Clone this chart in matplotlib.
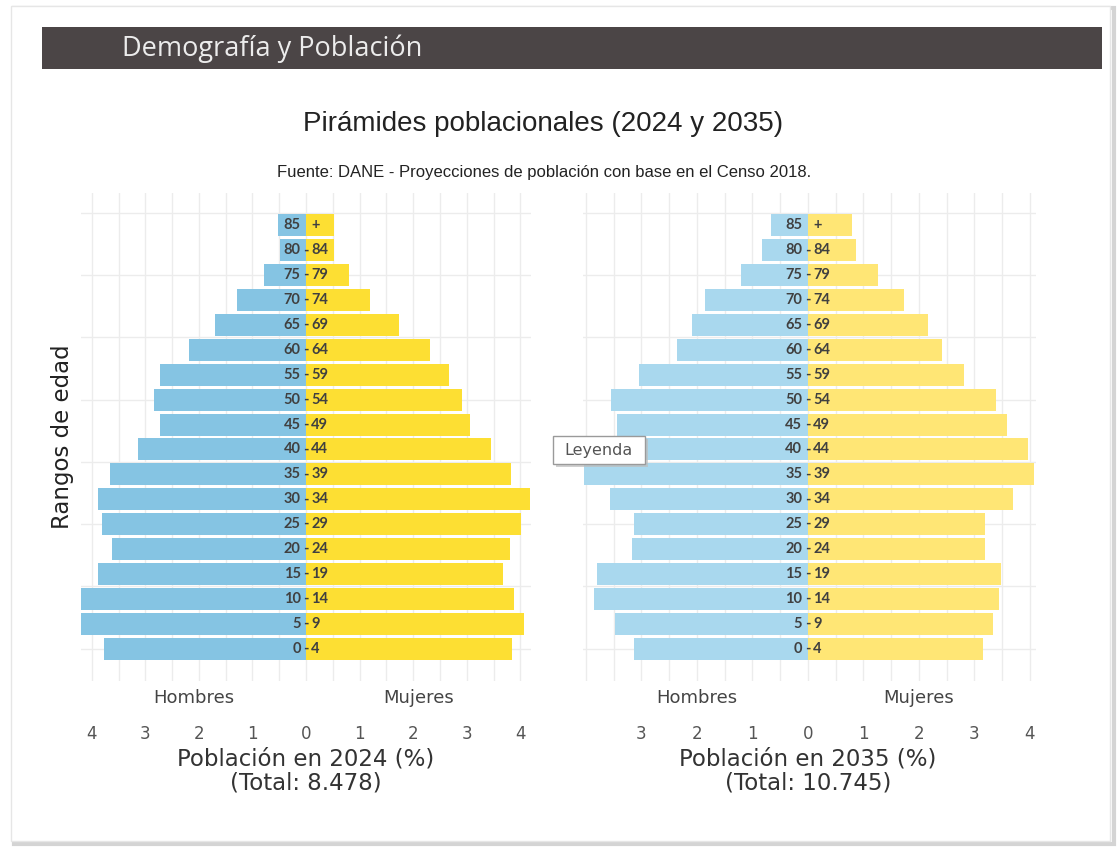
import matplotlib
matplotlib.use("Agg")
import matplotlib.pyplot as plt
from matplotlib.patches import Rectangle
from matplotlib.ticker import MultipleLocator
import matplotlib.transforms as mtransforms

# age groups, bottom to top
edad_inf = ['0', '5', '10', '15', '20', '25', '30', '35', '40',
            '45', '50', '55', '60', '65', '70', '75', '80', '85']
edad_sup = ['4', '9', '14', '19', '24', '29', '34', '39', '44',
            '49', '54', '59', '64', '69', '74', '79', '84', '+']

# 2024 (%)
hombres_2024 = [3.77, 4.21, 4.23, 3.89, 3.62, 3.81, 3.89, 3.66, 3.13,
                2.72, 2.83, 2.72, 2.19, 1.70, 1.28, 0.79, 0.49, 0.53]
mujeres_2024 = [3.85, 4.07, 3.89, 3.67, 3.80, 4.02, 4.19, 3.83, 3.46,
                3.07, 2.91, 2.67, 2.31, 1.74, 1.20, 0.80, 0.52, 0.52]

# 2035 (%)
hombres_2035 = [3.14, 3.48, 3.86, 3.80, 3.17, 3.14, 3.57, 4.04, 3.85,
                3.43, 3.54, 3.05, 2.35, 2.08, 1.86, 1.21, 0.83, 0.67]
mujeres_2035 = [3.16, 3.34, 3.45, 3.48, 3.19, 3.19, 3.70, 4.08, 3.96,
                3.59, 3.39, 2.81, 2.41, 2.17, 1.74, 1.27, 0.86, 0.79]

W, H = 1120, 848
fig = plt.figure(figsize=(W / 100, H / 100), dpi=100)


def fx(x):
    return x / W


def fy(y):
    return 1 - y / H


# card border / shadow
fig.patches.append(Rectangle((fx(14), fy(844)), fx(1114) - fx(14), fy(8) - fy(844),
                             transform=fig.transFigure, facecolor='none',
                             edgecolor='#d4d4d4', lw=3, zorder=-3))
fig.patches.append(Rectangle((fx(11), fy(841)), fx(1110) - fx(11), fy(6) - fy(841),
                             transform=fig.transFigure, facecolor='white',
                             edgecolor='#e6e6e6', lw=1, zorder=-2))

# header bar
fig.patches.append(Rectangle((fx(42), fy(69)), fx(1102) - fx(42), fy(27) - fy(69),
                             transform=fig.transFigure, facecolor='#4b4546',
                             edgecolor='none', zorder=-1))
fig.text(fx(122), fy(49), 'Demografía y Población', color='#ececec',
         fontsize=19.5, family='Open Sans', va='center', ha='left')

fig.text(fx(543), fy(124), 'Pirámides poblacionales (2024 y 2035)',
         fontsize=20, family='Liberation Sans', color='#222222',
         ha='center', va='center')
fig.text(fx(544), fy(172),
         'Fuente: DANE - Proyecciones de población con base en el Censo 2018.',
         fontsize=12, family='Liberation Sans', color='#222222',
         ha='center', va='center')

fig.text(fx(63), fy(437), 'Rangos de edad', rotation=90, fontsize=16.5,
         family='DejaVu Sans', color='#222222', ha='center', va='center')

y_pos = list(range(len(edad_inf)))

paneles = [
    dict(box=(81, 531), xlim=(-4.2, 4.2), hombres=hombres_2024, mujeres=mujeres_2024,
         c_h='#85c4e3', c_m='#fddf33', ticks=[-4, -3, -2, -1, 0, 1, 2, 3, 4],
         titulo='Población en 2024 (%)\n(Total: 8.478)', sx=2.1),
    dict(box=(583, 1036), xlim=(-4.05, 4.11), hombres=hombres_2035, mujeres=mujeres_2035,
         c_h='#a9d8ee', c_m='#ffe675', ticks=[-3, -2, -1, 0, 1, 2, 3, 4],
         titulo='Población en 2035 (%)\n(Total: 10.745)', sx=2.0),
]

for p in paneles:
    x0, x1 = p['box']
    ax = fig.add_axes([fx(x0), fy(681), fx(x1) - fx(x0), fy(193) - fy(681)])
    ax.set_zorder(1)
    ax.patch.set_alpha(0)
    ax.set_xlim(*p['xlim'])
    ax.set_ylim(-1.3, 18.3)
    ax.barh(y_pos, [-v for v in p['hombres']], height=0.88, color=p['c_h'], zorder=2)
    ax.barh(y_pos, p['mujeres'], height=0.88, color=p['c_m'], zorder=2)
    ax.xaxis.set_major_locator(MultipleLocator(0.5))
    ax.yaxis.set_major_locator(MultipleLocator(2.5))
    ax.grid(True, color='#ececec', lw=1, zorder=0)
    ax.set_axisbelow(True)
    for s in ax.spines.values():
        s.set_visible(False)
    ax.tick_params(length=0, labelbottom=False, labelleft=False)

    for i in y_pos:
        ax.text(-0.1, i, edad_inf[i], ha='right', va='center', fontsize=10.5,
                family='Lato', fontweight='bold', color='#404040', zorder=3)
        if edad_sup[i] != '+':
            ax.text(0, i, '-', ha='center', va='center', fontsize=10.5,
                    family='Lato', fontweight='bold', color='#404040', zorder=3)
        ax.text(0.1, i, edad_sup[i], ha='left', va='center', fontsize=10.5,
                family='Lato', fontweight='bold', color='#404040', zorder=3)

    tr = mtransforms.blended_transform_factory(ax.transData, fig.transFigure)
    ax.text(-p['sx'], fy(698), 'Hombres', transform=tr, ha='center', va='center',
            fontsize=13, family='DejaVu Sans', color='#444444')
    ax.text(p['sx'], fy(698), 'Mujeres', transform=tr, ha='center', va='center',
            fontsize=13, family='DejaVu Sans', color='#444444')
    for t in p['ticks']:
        ax.text(t, fy(734), str(abs(t)), transform=tr, ha='center', va='center',
                fontsize=12, family='DejaVu Sans', color='#555555')
    ax.text(0, fy(771), p['titulo'], transform=tr, ha='center', va='center',
            fontsize=16.5, family='DejaVu Sans', color='#333333', linespacing=1.1)

# Leyenda tooltip box
fig.patches.append(Rectangle((fx(556), fy(467)), fx(92), fy(436) - fy(464),
                             transform=fig.transFigure, facecolor='#bdbdbd',
                             edgecolor='none', zorder=5, alpha=0.7))
fig.patches.append(Rectangle((fx(553), fy(464)), fx(92), fy(436) - fy(464),
                             transform=fig.transFigure, facecolor='white',
                             edgecolor='#9a9a9a', lw=1, zorder=6))
fig.text(fx(599), fy(450), 'Leyenda', fontsize=11.5, family='DejaVu Sans',
         color='#555555', ha='center', va='center', zorder=7)

fig.savefig('out.png', dpi=100)
